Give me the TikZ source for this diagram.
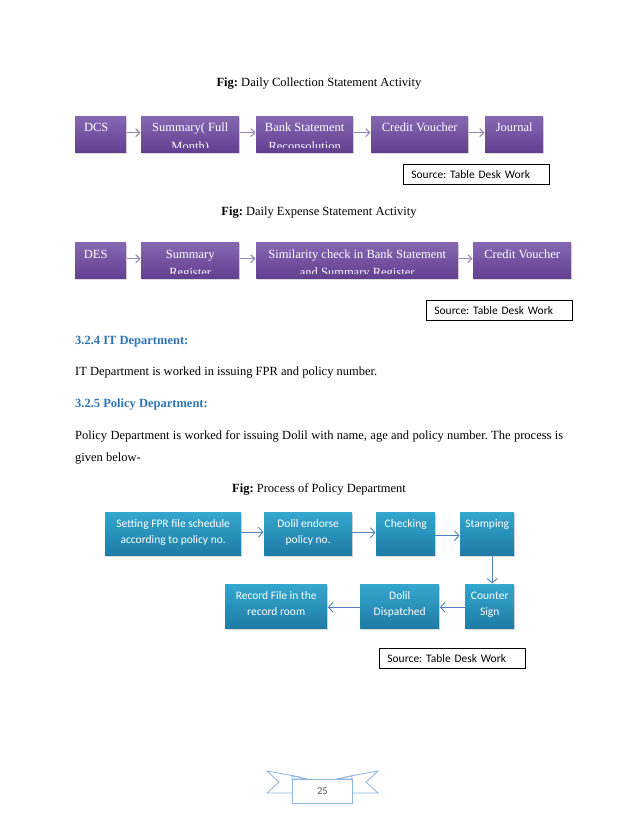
\documentclass[tikz,border=0pt]{standalone}
\usepackage{fontspec}
\setmainfont{Liberation Serif}
\newfontfamily\calibri{Carlito}
\usetikzlibrary{shadows,arrows.meta}
\definecolor{ptop}{RGB}{134,104,178}
\definecolor{pbot}{RGB}{98,64,144}
\definecolor{parrow}{RGB}{150,134,182}
\definecolor{btop}{RGB}{52,167,206}
\definecolor{bbot}{RGB}{30,124,166}
\definecolor{barrow}{RGB}{79,129,189}
\definecolor{headblue}{RGB}{46,116,181}
\definecolor{ribbonc}{RGB}{141,179,226}
\newcommand{\ptextone}[3]{%
  \begin{scope}
    \clip (#1.north west) rectangle ([yshift=4.5pt]#1.south east);
    \node[ptxt] (#1-a) at ([xshift=#2,yshift=-16pt]#1.north) {#3};
  \end{scope}}
\newcommand{\ptexttwo}[4]{%
  \begin{scope}
    \clip (#1.north west) rectangle ([yshift=4.5pt]#1.south east);
    \node[ptxt] (#1-a) at ([xshift=#2,yshift=-16pt]#1.north) {#3};
    \node[ptxt] (#1-b) at ([xshift=#2,yshift=-34.5pt]#1.north) {#4};
  \end{scope}}
\newcommand{\btextone}[2]{%
  \node[btxt] (#1-a) at ([yshift=-15.3pt]#1.north) {#2};}
\newcommand{\btexttwo}[3]{%
  \node[btxt] (#1-a) at ([yshift=-15.3pt]#1.north) {#2};
  \node[btxt] (#1-b) at ([yshift=-31pt]#1.north) {#3};}
\begin{document}
\frenchspacing
\begin{tikzpicture}[x=1pt,y=-1pt,
  pbox/.style={anchor=north west, inner sep=0pt, minimum height=36pt, draw=none,
    top color=ptop, bottom color=pbot,
    drop shadow={shadow xshift=0.6pt, shadow yshift=-1.6pt, opacity=0.28}},
  bbox/.style={anchor=north west, inner sep=0pt, draw=none,
    top color=btop, bottom color=bbot,
    drop shadow={shadow xshift=0.6pt, shadow yshift=-1.8pt, opacity=0.28}},
  ptxt/.style={anchor=base, inner sep=0pt, text=white, font=\fontsize{12.5}{17}\selectfont},
  btxt/.style={anchor=base, inner sep=0pt, text=white, font=\calibri\fontsize{11.5}{15.5}\selectfont},
  parr/.style={draw=parrow, line width=1.1pt, -{Straight Barb[length=4pt,width=8pt]}, shorten <=0.5pt, shorten >=0.5pt},
  barr/.style={draw=barrow, line width=0.9pt, -{Straight Barb[length=4.5pt,width=10pt]}, shorten <=0pt, shorten >=0.5pt},
  srcbox/.style={draw=black, line width=0.8pt, fill=white, anchor=north west, minimum height=20pt,
    text width=130pt, inner xsep=8pt, inner ysep=0pt, align=left, font=\calibri\fontsize{11.5}{13}\selectfont},
  body/.style={anchor=base west, inner sep=0pt, font=\fontsize{12.5}{22}\selectfont},
  fig/.style={anchor=base, inner sep=0pt, font=\fontsize{12.5}{15}\selectfont},
  head/.style={anchor=base west, inner sep=0pt, text=headblue, font=\bfseries\fontsize{12.5}{15}\selectfont},
  rib/.style={draw=ribbonc, line width=0.8pt, fill=white}
  ]
\path[fill=white] (0,0) rectangle (638,826);

% ---- Figure 1
\node[fig] (fig1) at (319,87) {\textbf{Fig:} Daily Collection Statement Activity};
\node[pbox, minimum width=51pt] (dcs) at (75,116) {};
\node[pbox, minimum width=98pt] (sum) at (141,116) {};
\node[pbox, minimum width=97pt] (bank) at (256,116) {};
\node[pbox, minimum width=97pt] (cv) at (371,116) {};
\node[pbox, minimum width=58pt] (jour) at (485,116) {};
\ptextone{dcs}{-4.5pt}{DCS}
\ptexttwo{sum}{0pt}{Summary( Full}{Month)}
\ptexttwo{bank}{0pt}{Bank Statement}{Reconsolution}
\ptextone{cv}{0pt}{Credit Voucher}
\ptextone{jour}{0pt}{Journal}
\draw[parr] ([yshift=1.5pt]dcs.east) -- ([yshift=1.5pt]sum.west);
\draw[parr] ([yshift=1.5pt]sum.east) -- ([yshift=1.5pt]bank.west);
\draw[parr] ([yshift=1.5pt]bank.east) -- ([yshift=1.5pt]cv.west);
\draw[parr] ([yshift=1.5pt]cv.east) -- ([yshift=1.5pt]jour.west);
\node[srcbox] (src1) at (403,164) {Source: Table Desk Work};

% ---- Figure 2
\node[fig] (fig2) at (319,215) {\textbf{Fig:} Daily Expense Statement Activity};
\node[pbox, minimum width=51pt] (des) at (75,242) {};
\node[pbox, minimum width=98pt] (sreg) at (141,242) {};
\node[pbox, minimum width=202pt] (sim) at (256,242) {};
\node[pbox, minimum width=98pt] (cvb) at (473,242) {};
\ptextone{des}{-5pt}{DES}
\ptexttwo{sreg}{0pt}{Summary}{Register}
\ptexttwo{sim}{0pt}{Similarity check in Bank Statement}{and Summary Register}
\ptextone{cvb}{0pt}{Credit Voucher}
\draw[parr] ([yshift=1.5pt]des.east) -- ([yshift=1.5pt]sreg.west);
\draw[parr] ([yshift=1.5pt]sreg.east) -- ([yshift=1.5pt]sim.west);
\draw[parr] ([yshift=1.5pt]sim.east) -- ([yshift=1.5pt]cvb.west);
\node[srcbox] (src2) at (426,300) {Source: Table Desk Work};

% ---- Text
\node[head] (h324) at (75,344) {3.2.4 IT Department:};
\node[body] (p324) at (75,375) {IT Department is worked in issuing FPR and policy number.};
\node[head] (h325) at (75,407) {3.2.5 Policy Department:};
\node[body, text width=488pt, align=justify, anchor=base west] (p325) at (75,439)
  {Policy Department is worked for issuing Dolil with name, age and policy number. The process is\linebreak given below-};
\node[fig] (fig3) at (319,492) {\textbf{Fig:} Process of Policy Department};

% ---- Figure 3
\node[bbox, minimum width=136pt, minimum height=43pt] (set) at (105,512) {};
\node[bbox, minimum width=88pt, minimum height=43pt] (dolil) at (264,512) {};
\node[bbox, minimum width=59pt, minimum height=43pt] (check) at (376,512) {};
\node[bbox, minimum width=54pt, minimum height=43pt] (stamp) at (460,512) {};
\node[bbox, minimum width=49pt, minimum height=44pt] (counter) at (465,584) {};
\node[bbox, minimum width=79pt, minimum height=44pt] (disp) at (360,584) {};
\node[bbox, minimum width=102pt, minimum height=44pt] (record) at (225,584) {};
\btexttwo{set}{Setting FPR file schedule}{according to policy no.}
\btexttwo{dolil}{Dolil endorse}{policy no.}
\btextone{check}{Checking}
\btextone{stamp}{Stamping}
\btexttwo{counter}{Counter}{Sign}
\btexttwo{disp}{Dolil}{Dispatched}
\btexttwo{record}{Record File in the}{record room}
\draw[barr] ([yshift=1.5pt]set.east) -- ([yshift=1.5pt]set.east -| dolil.west);
\draw[barr] ([yshift=1pt]dolil.east) -- ([yshift=1pt]dolil.east -| check.west);
\draw[barr] ([yshift=-2pt]check.east) -- ([yshift=-2pt]check.east -| stamp.west);
\draw[barr] ([xshift=5pt]stamp.south) -- ([xshift=5pt]stamp.south |- counter.north);
\draw[barr] ([yshift=-1pt]counter.west) -- ([yshift=-1pt]counter.west -| disp.east);
\draw[barr] ([yshift=-1pt]disp.west) -- ([yshift=-1pt]disp.west -| record.east);
\node[srcbox] (src3) at (379,648) {Source: Table Desk Work};

% ---- Page number ribbon
\draw[rib] (267,771) -- (300,777) -- (300,793) -- (267,793) -- (279,782) -- cycle;
\draw[rib] (378,771) -- (345,777) -- (345,793) -- (378,793) -- (366,782) -- cycle;
\draw[rib] (292,776) -- (308,779) -- (292,779) -- cycle;
\draw[rib] (352,776) -- (336,779) -- (352,779) -- cycle;
\node[rib, anchor=north west, minimum width=60pt, minimum height=24pt, inner sep=0pt,
  font=\calibri\fontsize{10.5}{12}\selectfont, text=black!65] (pnum) at (292,779) {25};
\end{tikzpicture}
\end{document}
